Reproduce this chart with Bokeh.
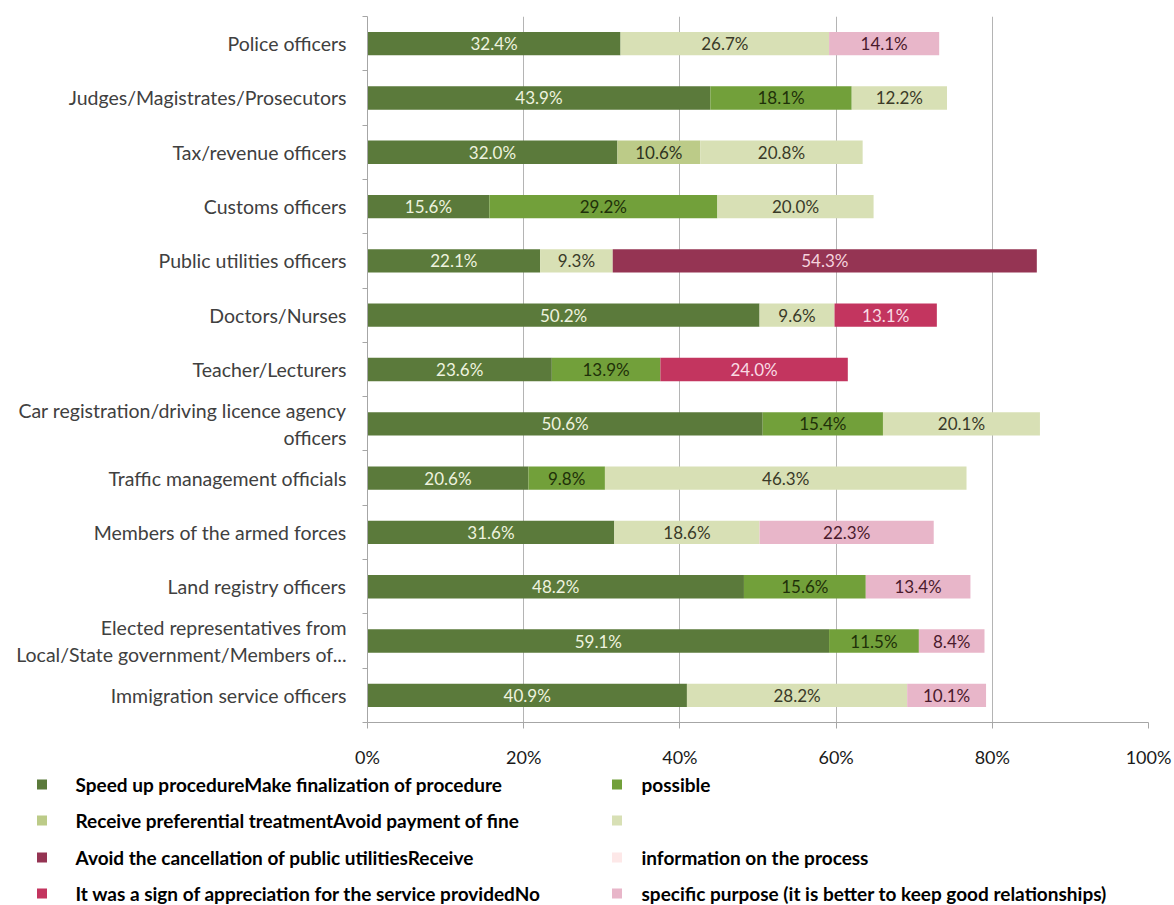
from bokeh.plotting import figure
from bokeh.layouts import column
from bokeh.models import (Range1d, FixedTicker, ColumnDataSource, PrintfTickFormatter)
from bokeh.core.properties import value
from bokeh.embed import file_html
from bokeh.resources import INLINE

categories = [
    "Police officers",
    "Judges/Magistrates/Prosecutors",
    "Tax/revenue officers",
    "Customs officers",
    "Public utilities officers",
    "Doctors/Nurses",
    "Teacher/Lecturers",
    "Car registration/driving licence agency\nofficers",
    "Traffic management officials",
    "Members of the armed forces",
    "Land registry officers",
    "Elected representatives from\nLocal/State government/Members of...",
    "Immigration service officers",
]

speed_up = [32.4, 43.9, 32.0, 15.6, 22.1, 50.2, 23.6, 50.6, 20.6, 31.6, 48.2, 59.1, 40.9]
finalization_possible = [0, 18.1, 0, 29.2, 0, 0, 13.9, 15.4, 9.8, 0, 15.6, 11.5, 0]
preferential_treatment = [0, 0, 10.6, 0, 0, 0, 0, 0, 0, 0, 0, 0, 0]
avoid_fine = [26.7, 12.2, 20.8, 20.0, 9.3, 9.6, 0, 20.1, 46.3, 18.6, 0, 0, 28.2]
avoid_cancellation = [0, 0, 0, 0, 54.3, 0, 0, 0, 0, 0, 0, 0, 0]
receive_information = [0, 0, 0, 0, 0, 0, 0, 0, 0, 0, 0, 0, 0]
appreciation = [0, 0, 0, 0, 0, 13.1, 24.0, 0, 0, 0, 0, 0, 0]
no_specific_purpose = [14.1, 0, 0, 0, 0, 0, 0, 0, 0, 22.3, 13.4, 8.4, 10.1]

series = [speed_up, finalization_possible, preferential_treatment, avoid_fine,
          avoid_cancellation, receive_information, appreciation, no_specific_purpose]

legend_labels = [
    "Speed up procedureMake finalization of procedure",
    "possible",
    "Receive preferential treatmentAvoid payment of fine",
    "",
    "Avoid the cancellation of public utilitiesReceive",
    "information on the process",
    "It was a sign of appreciation for the service providedNo",
    "specific purpose (it is better to keep good relationships)",
]

colors = ["#5b7a3b", "#72a03a", "#bccb88", "#d8e0b5",
          "#953453", "#fde8e8", "#c3355f", "#e8b6c9"]
label_colors = ["#eef3df", "#1f3009", "#2e3320", "#3a3a28",
                "#f6d3de", "#3a2a2a", "#f9dbe4", "#4a1a2c"]

xticks = [0, 20, 40, 60, 80, 100]

FONT = "Lato"
n = len(categories)
W = 1174

p = figure(width=W, height=770, output_backend="svg", toolbar_location=None,
           x_range=Range1d(0, 100), y_range=Range1d(n, 0),
           min_border_left=367, min_border_right=26, min_border_top=16,
           min_border_bottom=48, frame_align=False)
p.outline_line_color = None
p.background_fill_color = "white"

ycent = [i + 0.5 for i in range(n)]
cum = [0.0] * n
lab_x, lab_y, lab_t, lab_c = [], [], [], []
for s, vals in enumerate(series):
    left = cum[:]
    right = [l + v for l, v in zip(left, vals)]
    src = ColumnDataSource(dict(y=ycent, left=left, right=right))
    p.hbar(y="y", left="left", right="right", height=0.43, source=src,
           fill_color=colors[s], line_color=None)
    for i, v in enumerate(vals):
        if v > 0:
            lab_x.append(left[i] + v / 2)
            lab_y.append(ycent[i])
            lab_t.append(f"{v:.1f}%")
            lab_c.append(label_colors[s])
    cum = right

lsrc = ColumnDataSource(dict(x=lab_x, y=lab_y, t=lab_t, c=lab_c))
p.text(x="x", y="y", text="t", source=lsrc, text_color="c", text_align="center",
       text_baseline="middle", text_font=value(FONT), text_font_size="17px")

# x axis
xa = p.xaxis[0]
xa.ticker = FixedTicker(ticks=xticks)
xa.formatter = PrintfTickFormatter(format="%d%%")
xa.axis_line_color = "#a6a6a6"
xa.major_tick_line_color = "#a6a6a6"
xa.major_tick_out = 6
xa.major_tick_in = 0
xa.minor_tick_line_color = None
xa.major_label_text_font = FONT
xa.major_label_text_font_size = "18px"
xa.major_label_text_color = "#1a1a1a"
xa.major_label_standoff = 17

# y axis
ya = p.yaxis[0]
ya.ticker = FixedTicker(ticks=ycent, minor_ticks=list(range(n + 1)))
ya.major_label_overrides = {c: categories[i] for i, c in enumerate(ycent)}
ya.axis_line_color = "#a6a6a6"
ya.major_tick_line_color = None
ya.major_tick_out = 0
ya.major_tick_in = 0
ya.minor_tick_line_color = "#a6a6a6"
ya.minor_tick_out = 5
ya.minor_tick_in = 0
ya.major_label_text_font = FONT
ya.major_label_text_font_size = "19.5px"
ya.major_label_text_color = "#404040"
ya.major_label_standoff = 16

p.xgrid.ticker = FixedTicker(ticks=xticks)
p.xgrid.grid_line_color = "#b4b4b4"
p.ygrid.grid_line_color = None

# legend strip below the chart (pixel-based coordinates)
LH = 135
lg = figure(width=W, height=LH, output_backend="svg", toolbar_location=None,
            x_range=Range1d(0, W), y_range=Range1d(LH, 0),
            x_axis_type=None, y_axis_type=None,
            min_border_left=0, min_border_right=0, min_border_top=0,
            min_border_bottom=0, frame_align=False)
lg.outline_line_color = None
lg.xgrid.visible = False
lg.ygrid.visible = False

col_marker_x = [41.5, 616.5]
col_text_x = [75, 641]
row_y = [14, 50, 87, 123]
mx, my, tx, ty = [], [], [], []
for s in range(len(series)):
    r, c = divmod(s, 2)
    mx.append(col_marker_x[c])
    my.append(row_y[r])
    tx.append(col_text_x[c])
    ty.append(row_y[r])
msrc = ColumnDataSource(dict(x=mx, y=my, c=colors))
tsrc = ColumnDataSource(dict(x=tx, y=ty, t=legend_labels))
lg.scatter(x="x", y="y", source=msrc, marker="square", size=10,
           fill_color="c", line_color=None)
lg.text(x="x", y="y", text="t", source=tsrc, text_align="left",
        text_baseline="middle", text_font=value(FONT), text_font_style="bold",
        text_font_size="19px", text_color="#000000")

layout = column(p, lg, spacing=0)
open("out.html", "w").write(file_html(layout, INLINE))
